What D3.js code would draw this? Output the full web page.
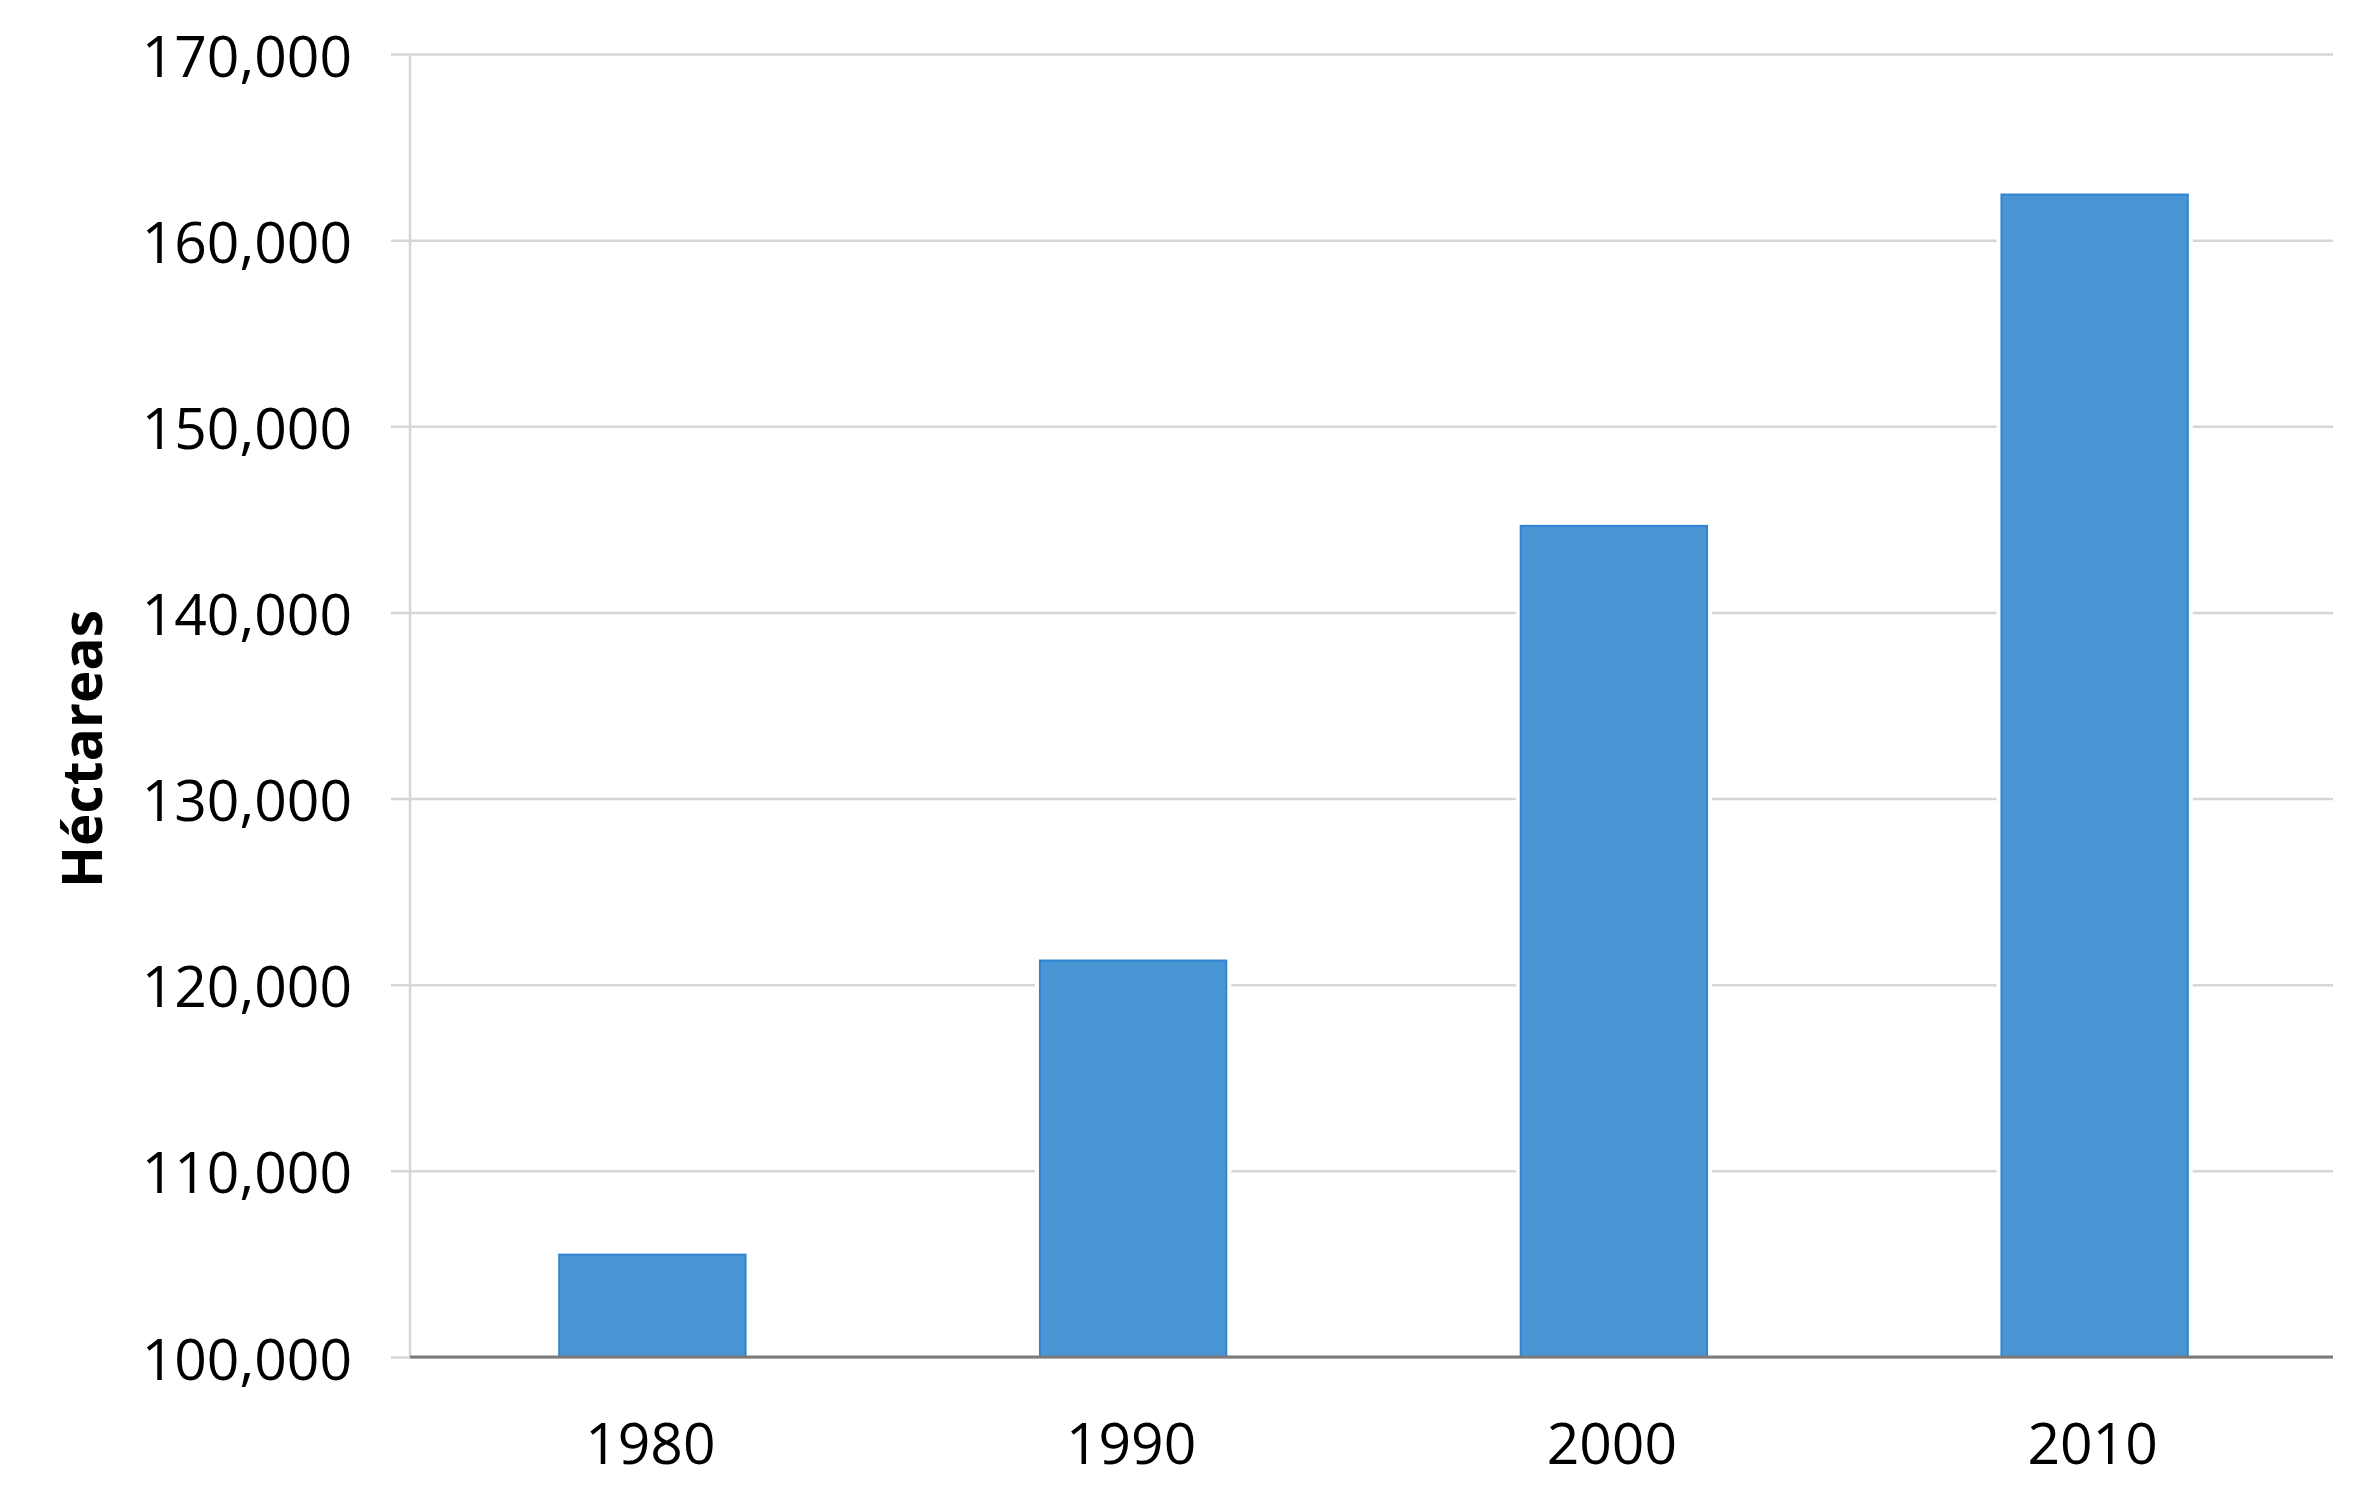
<!DOCTYPE html>
<html>
<head>
<meta charset="utf-8">
<script src="https://cdn.jsdelivr.net/npm/d3@7"></script>
<style>
  html, body { margin: 0; padding: 0; background: #fff; }
  svg { display: block; }
</style>
</head>
<body>
<svg id="chart" width="2362" height="1501"></svg>
<script>
const categories = ["1980", "1990", "2000", "2010"];
const values = [105500, 121300, 144650, 162450];
const yTicks = [100000, 110000, 120000, 130000, 140000, 150000, 160000, 170000];
const yTitle = "Héctareas";

(function () {
const mLeft = 410, mRight = 2333, mTop = 54, mBottom = 1357;
const tickStart = 391;

const svg = d3.select("#chart");
const font = "'Open Sans', 'Noto Sans', sans-serif";

const x = d3.scaleBand().domain(categories).range([mLeft, mRight]).paddingInner(0).paddingOuter(0);
const y = d3.scaleLinear().domain([100000, 170000]).range([mBottom, mTop]);

// grid + y ticks
const yAxis = d3.axisLeft(y)
  .tickValues(yTicks)
  .tickFormat(d3.format(","))
  .tickSizeInner(-(mRight - tickStart))
  .tickSizeOuter(0)
  .tickPadding(39);

const gy = svg.append("g").attr("transform", `translate(${tickStart},0)`).call(yAxis);
gy.select(".domain").remove();
gy.selectAll(".tick line").attr("stroke", "#d6d6d6").attr("stroke-width", 2.5);
gy.selectAll(".tick text")
  .attr("font-family", font)
  .attr("font-size", 57)
  .attr("fill", "#000")
  .attr("dy", null)
  .attr("y", 22);

// vertical axis line
svg.append("line")
  .attr("x1", mLeft).attr("x2", mLeft)
  .attr("y1", y(170000)).attr("y2", y(100000))
  .attr("stroke", "#d6d6d6").attr("stroke-width", 2.5);

// bars
const barW = x.bandwidth() / 2.58;
const off = (x.bandwidth() - barW) / 2 + 2;
const bars = svg.append("g");
bars.selectAll("rect.gap").data(categories).join("rect")
  .attr("class", "gap")
  .attr("x", d => x(d) + off - 5)
  .attr("width", barW + 10)
  .attr("y", (d, i) => y(values[i]))
  .attr("height", (d, i) => y(100000) - y(values[i]))
  .attr("fill", "#fff");
bars.selectAll("rect.bar").data(categories).join("rect")
  .attr("class", "bar")
  .attr("x", d => x(d) + off)
  .attr("width", barW)
  .attr("y", (d, i) => y(values[i]))
  .attr("height", (d, i) => y(100000) - y(values[i]))
  .attr("fill", "#4a96d5")
  .attr("stroke", "#2f84d0")
  .attr("stroke-width", 2);

// baseline
svg.append("line")
  .attr("x1", mLeft).attr("x2", mRight)
  .attr("y1", y(100000)).attr("y2", y(100000))
  .attr("stroke", "#7a7a7a").attr("stroke-width", 3);

// x axis labels
const xAxis = d3.axisBottom(x).tickSize(0);
const gx = svg.append("g").attr("transform", `translate(0,${mBottom})`).call(xAxis);
gx.select(".domain").remove();
gx.selectAll(".tick text")
  .attr("font-family", font)
  .attr("font-size", 57)
  .attr("fill", "#000")
  .attr("dy", null)
  .attr("y", 107);

// y title
svg.append("text")
  .attr("transform", `translate(102,749) rotate(-90)`)
  .attr("text-anchor", "middle")
  .attr("font-family", font)
  .attr("font-weight", "bold")
  .attr("font-size", 55)
  .attr("fill", "#000")
  .text(yTitle);
})();
</script>
</body>
</html>
